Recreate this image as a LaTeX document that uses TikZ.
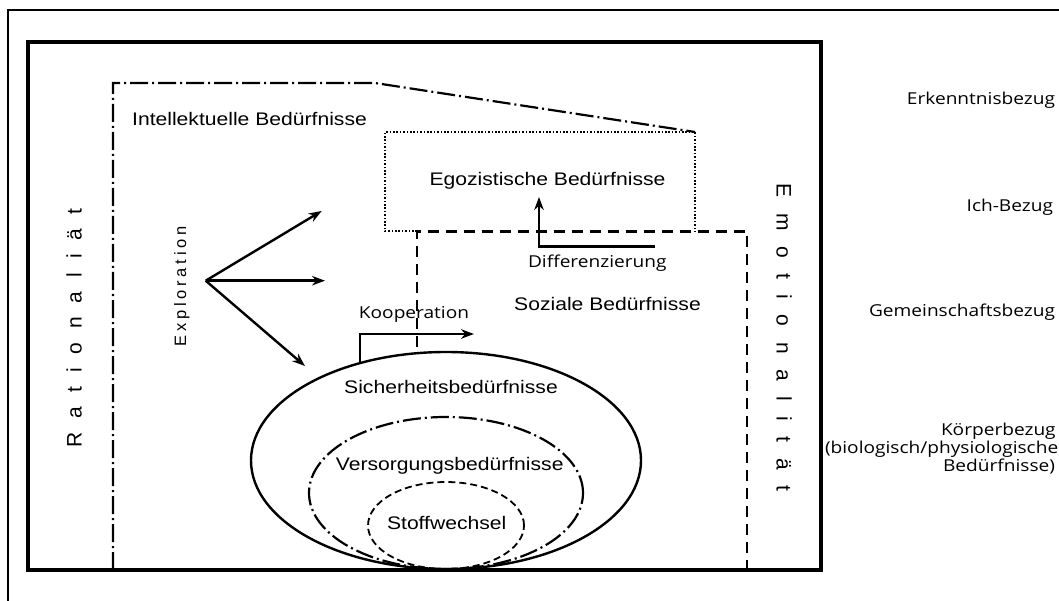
\documentclass[tikz,border=0pt]{standalone}
\usepackage{fontspec}
\setmainfont{Liberation Sans}[FakeStretch=1.16]
\newfontfamily\labfont{Open Sans}[FakeStretch=1.165]
\newfontfamily\vertfont{Liberation Sans}
\usetikzlibrary{shapes.geometric,arrows.meta}
\newcommand\gapR{\hspace{13.9pt}}
\newcommand\gapE{\hspace{15.5pt}}
\newcommand\gapX{\hspace{3.8pt}}
\begin{document}
\begin{tikzpicture}[x=1pt,y=-1pt,
  every node/.style={inner sep=0pt, outer sep=0pt},
  maintext/.style={font=\fontsize{18.2}{22}\selectfont, anchor=base},
  sidetext/.style={font=\labfont\fontsize{16.4}{19}\selectfont},
  verttext/.style={font=\vertfont\fontsize{21}{24}\selectfont, anchor=base},
  arr/.style={line width=2.4pt, -{Stealth[length=13pt,width=9.5pt]}},
  thickbox/.style={line width=4pt},
  dashdotline/.style={line width=2.2pt, dash pattern=on 18pt off 4pt on 2pt off 4pt},
  dottedline/.style={line width=2pt, dash pattern=on 1.6pt off 1.8pt},
  dashedline/.style={line width=2.2pt, dash pattern=on 11pt off 7pt},
  ell/.style={ellipse, draw, line width=2.4pt},
]
\useasboundingbox (0,0) rectangle (1059,601);
\fill[white] (0,0) rectangle (1059,601);

% frames
\draw[line width=2.2pt] (1070,10) -- (8,10) -- (8,612);
\draw[thickbox] (28,42.3) rectangle (821,570);

% intellectual outline (dash-dot)
\draw[dashdotline] (113,570) -- (113,83) -- (375,83) -- (695,132);
% egoistic (dotted)
\draw[dottedline] (417,231.5) -- (385,231.5) -- (385,132) -- (695,132) -- (695,231.5);
% social (dashed)
\draw[dashedline] (417,347) -- (417,231.5) -- (747,231.5) -- (747,570);

% ellipses
\node[ell, minimum width=390pt, minimum height=217pt] (sich) at (446,460.5) {};
\node[ell, line width=2.2pt, dash pattern=on 18pt off 4pt on 2pt off 4pt, minimum width=274pt, minimum height=152pt] (vers) at (446,493) {};
\node[ell, line width=1.8pt, dash pattern=on 7pt off 4pt, minimum width=156pt, minimum height=87pt] (stoff) at (446,525.5) {};

% texts
\node[maintext] (intel) at (249.5,125.7) {Intellektuelle Bedürfnisse};
\node[maintext] (ego) at (547.5,186) {Egozistische Bedürfnisse};
\node[maintext] (soz) at (607.5,310.5) {Soziale Bedürfnisse};
\node[maintext] (sichT) at (451,393.3) {Sicherheitsbedürfnisse};
\node[maintext] (versT) at (449.7,470) {Versorgungsbedürfnisse};
\node[maintext] (stoffT) at (446.7,529.3) {Stoffwechsel};

\node[sidetext, anchor=base] (diff) at (597.3,267.3) {Differenzierung};
\node[sidetext, anchor=base] (koop) at (414,319) {Kooperation};

\node[sidetext, anchor=base east] (erk) at (1055,105) {Erkenntnisbezug};
\node[sidetext, anchor=base east] (ich) at (1053,211.7) {Ich-Bezug};
\node[sidetext, anchor=base east] (gem) at (1055,316.7) {Gemeinschaftsbezug};
\node[sidetext, anchor=base west] (k1) at (941,435) {Körperbezug};
\node[sidetext, anchor=base west] (k2) at (825,453.3) {(biologisch/physiologische};
\node[sidetext, anchor=base west] (k3) at (943,471.7) {Bedürfnisse)};

% vertical texts
\node[verttext, rotate=90] (rat) at (81.7,328) {R\gapR a\gapR t\gapR i\gapR o\gapR n\gapR a\gapR l\gapR i\gapR ä\gapR t};
\node[verttext, rotate=-90] (emo) at (776.7,337.5) {E\gapE m\gapE o\gapE t\gapE i\gapE o\gapE n\gapE a\gapE l\gapE i\gapE t\gapE ä\gapE t};
\node[verttext, font=\vertfont\fontsize{16.5}{19}\selectfont, rotate=90] (expl) at (186,286.5) {E\gapX x\gapX p\gapX l\gapX o\gapX r\gapX a\gapX t\gapX i\gapX o\gapX n};

% exploration arrows
\coordinate (ex) at (205.7,280.7);
\coordinate (ex1) at (321.7,211);
\coordinate (ex2) at (325,280.7);
\coordinate (ex3) at (305,366);
\draw[arr] (ex) -- (ex1);
\draw[arr] (ex) -- (ex2);
\draw[arr] (ex) -- (ex3);

% kooperation arrow
\coordinate (kstart) at (360,362.5);
\coordinate (kend) at (474,334);
\draw[arr] (kstart) |- (kend);

% differenzierung arrow
\coordinate (dstart) at (655,246.7);
\coordinate (dend) at (539,197);
\draw[arr] (dstart) -| (dend);
\end{tikzpicture}
\end{document}
